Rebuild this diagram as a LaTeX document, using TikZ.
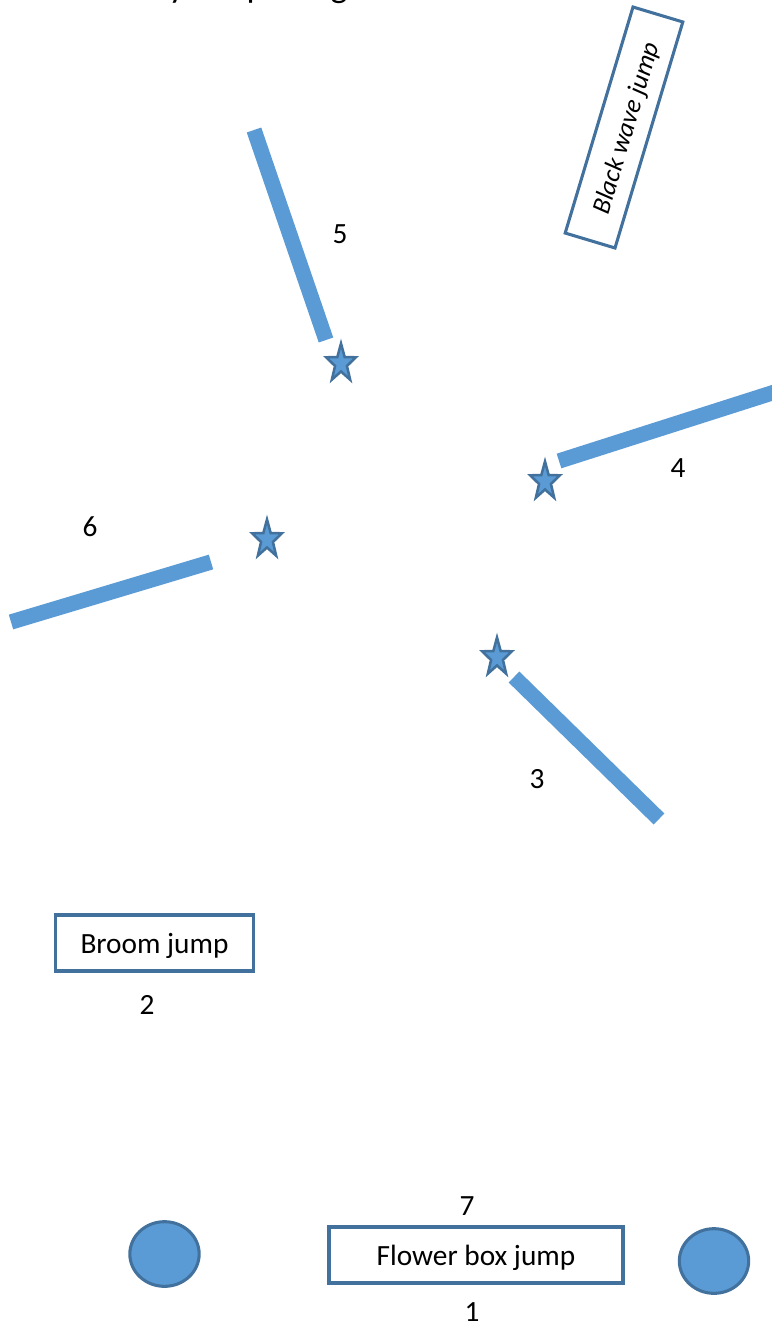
\documentclass[tikz,border=0pt]{standalone}
\usepackage{fontspec}
\setmainfont{Carlito}
\usetikzlibrary{shapes.geometric}
\definecolor{barblue}{HTML}{5B9BD5}
\definecolor{edgeblue}{HTML}{41719C}
\tikzset{
  jumpbox/.style={draw=edgeblue,line width=2.3pt,fill=white,inner sep=0pt,text height=19pt,text depth=4pt},
  marker/.style={star,star points=5,star point ratio=2.5,minimum size=30pt,inner sep=0pt,draw=edgeblue,line width=1.9pt,fill=barblue,xscale=.78,transform shape},
  barrel/.style={ellipse,minimum width=52pt,minimum height=48.5pt,inner sep=0pt,draw=edgeblue,line width=2.3pt,fill=barblue},
  bar/.style={draw=barblue,line width=11.5pt},
  num/.style={inner sep=0pt}
}
\begin{document}
\begin{tikzpicture}[x=.75pt,y=-.75pt,font=\fontsize{22}{24}\selectfont]
\useasboundingbox (0,0) rectangle (771,1323);
% title cut off by the page edge
\node[num,anchor=base,font=\fontsize{27}{30}\selectfont] (titley) at (177,-2) {y};
\node[num,anchor=base,font=\fontsize{27}{30}\selectfont] (titlep) at (256,-2) {p};
\node[num,anchor=base,font=\fontsize{27}{30}\selectfont] (titleg) at (339,-2) {g};
% bars
\draw[bar] (254,130)--(326,340);
\draw[bar] (559,461)--(775,392);
\draw[bar] (11,622)--(211,562);
\draw[bar] (514,677)--(659,819);
% stars
\node[marker] (star5) at (341,363.5) {};
\node[marker] (star4) at (545,481.5) {};
\node[marker] (star6) at (267,539.5) {};
\node[marker] (star3) at (497,657.5) {};
% jumps
\node[jumpbox,rotate=73.3,minimum width=177pt,minimum height=39pt] (blackwave) at (624,127.5) {\fontsize{19.5}{22}\selectfont\textit{Black wave jump}};
\node[jumpbox,minimum width=149pt,minimum height=42pt] (broom) at (154.5,943) {Broom jump};
\node[jumpbox,minimum width=220.5pt,minimum height=42pt] (flowerbox) at (476,1255) {Flower box jump};
\node[barrel] (barrelleft) at (164.5,1254) {};
\node[barrel] (barrelright) at (714,1261) {};
% numbers
\node[num] (num5) at (340,234) {5};
\node[num] (num4) at (678,468) {4};
\node[num] (num6) at (90,527) {6};
\node[num] (num3) at (537,779) {3};
\node[num] (num2) at (147,1005) {2};
\node[num] (num7) at (467,1206) {7};
\node[num] (num1) at (472,1312) {1};
\end{tikzpicture}
\end{document}
